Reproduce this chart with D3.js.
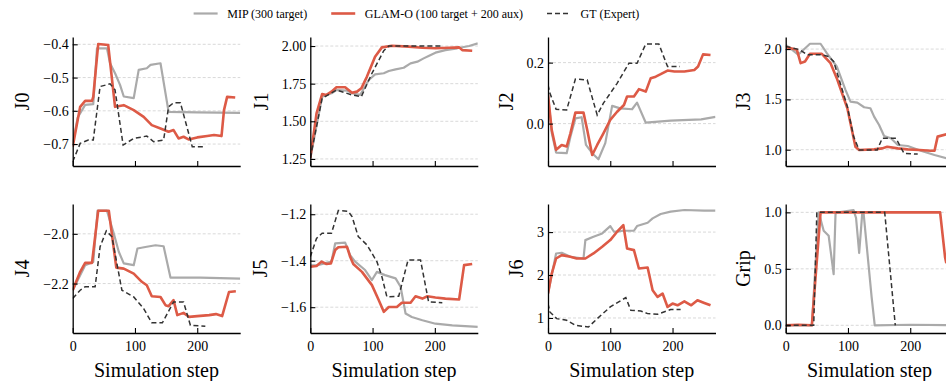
<!DOCTYPE html>
<html lang="en">
<head>
<meta charset="utf-8">
<title>Joint trajectories</title>
<script src="https://cdn.jsdelivr.net/npm/d3@7"></script>
</head>
<body style="margin:0; background:#fff;">
<script>

// ---- data: [step, value] pairs ----
var J0_mip = [[0,-0.70],[8,-0.62],[20,-0.582],[33,-0.58],[39,-0.412],[55,-0.412],[60,-0.457],[68,-0.487],[76,-0.522],[82,-0.557],[98,-0.562],[106,-0.477],[119,-0.472],[125,-0.462],[141,-0.457],[154,-0.603],[200,-0.605],[269,-0.606]];
var J0_glam = [[0,-0.708],[12,-0.588],[20,-0.57],[31,-0.57],[33,-0.558],[41,-0.399],[57,-0.402],[68,-0.588],[82,-0.583],[98,-0.598],[114,-0.618],[127,-0.643],[141,-0.653],[154,-0.663],[162,-0.658],[170,-0.683],[178,-0.678],[186,-0.686],[200,-0.68],[216,-0.676],[227,-0.673],[239,-0.676],[243,-0.598],[248,-0.558],[261,-0.56]];
var J0_gt = [[0,-0.753],[12,-0.698],[25,-0.688],[33,-0.688],[44,-0.527],[60,-0.519],[68,-0.537],[81,-0.703],[98,-0.683],[119,-0.676],[130,-0.693],[146,-0.688],[154,-0.588],[162,-0.576],[173,-0.576],[192,-0.708],[213,-0.708]];

var J1_mip = [[0,1.255],[19,1.664],[34,1.686],[42,1.708],[59,1.704],[67,1.686],[80,1.675],[94,1.774],[104,1.812],[118,1.819],[126,1.834],[137,1.845],[150,1.856],[161,1.885],[172,1.896],[182,1.918],[190,1.934],[201,1.956],[217,1.973],[236,1.985],[255,2.0],[269,2.018]];
var J1_glam = [[0,1.255],[10,1.553],[19,1.681],[26,1.675],[34,1.697],[42,1.726],[56,1.726],[67,1.69],[75,1.697],[82,1.719],[91,1.797],[104,1.929],[115,1.991],[131,2.002],[158,1.996],[180,1.989],[201,1.985],[223,1.989],[239,1.991],[244,1.973],[260,1.969]];
var J1_gt = [[0,1.255],[19,1.653],[42,1.708],[67,1.675],[82,1.664],[99,1.819],[118,1.969],[126,2.0],[163,2.0],[212,2.0]];

var J2_mip = [[0,0.094],[6,-0.03],[13,-0.095],[30,-0.097],[36,-0.043],[44,0.017],[54,0.021],[61,-0.07],[71,-0.097],[81,-0.117],[92,-0.064],[103,0.058],[116,0.05],[135,0.047],[143,0.069],[157,0.003],[197,0.01],[246,0.014],[269,0.022]];
var J2_glam = [[0,0.094],[6,-0.021],[13,-0.086],[22,-0.07],[30,-0.075],[36,-0.032],[44,0.036],[57,0.036],[63,-0.021],[71,-0.103],[79,-0.07],[89,-0.032],[100,0.012],[111,0.039],[122,0.061],[127,0.089],[138,0.089],[146,0.113],[157,0.105],[165,0.149],[173,0.154],[181,0.162],[192,0.174],[203,0.171],[219,0.171],[235,0.176],[241,0.187],[249,0.227],[261,0.225]];
var J2_gt = [[0,0.127],[3,0.1],[13,0.047],[30,0.045],[44,0.146],[63,0.143],[79,0.028],[89,0.067],[111,0.132],[130,0.198],[143,0.198],[157,0.261],[178,0.261],[192,0.187],[212,0.187]];

var J3_mip = [[0,2.043],[20,1.944],[39,2.053],[56,2.053],[66,1.96],[82,1.827],[96,1.595],[104,1.478],[115,1.468],[126,1.422],[136,1.412],[142,1.329],[150,1.246],[158,1.136],[169,1.113],[180,1.047],[196,1.037],[217,0.99],[239,0.947],[259,0.914],[269,0.91]];
var J3_glam = [[0,2.02],[18,1.993],[24,1.86],[31,1.877],[39,1.953],[58,1.953],[72,1.86],[82,1.711],[99,1.412],[112,1.03],[118,0.997],[142,1.003],[155,1.013],[163,1.03],[180,1.013],[196,1.003],[215,0.997],[233,0.99],[239,0.99],[244,1.13],[260,1.156]];
var J3_gt = [[0,2.027],[23,1.993],[34,1.944],[56,1.944],[69,1.927],[77,1.877],[99,1.429],[109,1.13],[118,0.997],[147,0.997],[155,1.113],[177,1.113],[190,0.964],[206,0.957],[212,0.957]];

var J4_mip = [[0,-2.227],[20,-2.126],[33,-2.113],[40,-1.907],[55,-1.907],[66,-1.999],[74,-2.072],[82,-2.119],[98,-2.126],[104,-2.059],[119,-2.052],[133,-2.046],[146,-2.05],[157,-2.176],[205,-2.176],[269,-2.18]];
var J4_glam = [[0,-2.227],[12,-2.153],[20,-2.117],[31,-2.117],[41,-1.907],[58,-1.907],[70,-2.136],[82,-2.14],[98,-2.16],[111,-2.193],[119,-2.207],[127,-2.251],[141,-2.254],[149,-2.287],[154,-2.291],[162,-2.267],[168,-2.327],[178,-2.318],[187,-2.334],[200,-2.331],[219,-2.327],[230,-2.323],[240,-2.331],[251,-2.234],[262,-2.231]];
var J4_gt = [[0,-2.26],[12,-2.227],[20,-2.213],[36,-2.213],[44,-2.052],[54,-1.988],[63,-2.012],[79,-2.227],[98,-2.254],[114,-2.301],[127,-2.358],[144,-2.358],[162,-2.274],[178,-2.274],[189,-2.368],[213,-2.372]];

var J5_mip = [[0,-1.42],[10,-1.42],[34,-1.404],[40,-1.325],[56,-1.322],[64,-1.376],[72,-1.404],[88,-1.44],[99,-1.483],[107,-1.448],[120,-1.462],[137,-1.476],[145,-1.512],[153,-1.627],[163,-1.642],[180,-1.656],[201,-1.671],[228,-1.678],[269,-1.685]];
var J5_glam = [[0,-1.426],[10,-1.423],[18,-1.404],[26,-1.414],[33,-1.412],[40,-1.354],[45,-1.342],[59,-1.34],[64,-1.383],[69,-1.414],[83,-1.448],[99,-1.505],[110,-1.57],[118,-1.62],[126,-1.599],[139,-1.599],[147,-1.581],[161,-1.581],[169,-1.553],[180,-1.563],[188,-1.553],[201,-1.558],[217,-1.563],[239,-1.567],[247,-1.419],[260,-1.414]];
var J5_gt = [[0,-1.383],[10,-1.304],[19,-1.282],[34,-1.282],[45,-1.184],[61,-1.188],[67,-1.21],[77,-1.296],[91,-1.332],[107,-1.404],[115,-1.469],[123,-1.555],[142,-1.553],[157,-1.397],[177,-1.397],[190,-1.577],[212,-1.581]];

var J6_mip = [[0,1.568],[13,2.502],[22,2.518],[36,2.424],[57,2.385],[60,2.813],[73,2.891],[87,2.969],[100,3.14],[106,3.008],[122,3.031],[138,3.031],[143,3.14],[160,3.218],[168,3.319],[181,3.42],[197,3.475],[219,3.514],[251,3.498],[269,3.498]];
var J6_glam = [[0,1.568],[6,2.035],[13,2.385],[22,2.463],[36,2.424],[46,2.385],[60,2.385],[73,2.502],[87,2.658],[100,2.813],[111,3.008],[121,3.163],[127,2.619],[138,2.58],[146,2.152],[160,2.175],[168,1.646],[176,1.49],[184,1.568],[192,1.257],[200,1.335],[208,1.296],[219,1.389],[230,1.296],[240,1.412],[251,1.35],[261,1.296]];
var J6_gt = [[0,1.335],[3,1.14],[14,0.984],[30,0.946],[44,0.829],[65,0.79],[79,0.984],[100,1.257],[125,1.475],[133,1.179],[149,1.163],[160,1.101],[176,1.086],[197,1.195],[213,1.195]];

var Grip_mip = [[0,0],[42,0],[53,1.0],[61,0.837],[69,0.793],[77,0.453],[80,0.985],[82,0.997],[109,1.02],[113,0.95],[118,0.64],[123,0.997],[125,0.997],[138,0.25],[143,0],[200,0.005],[269,0]];
var Grip_glam = [[0,0],[20,0.005],[42,0],[56,1.0],[120,1.0],[180,1.0],[248,1.0],[256,0.6],[258,0.55]];
var Grip_gt = [[0,0],[45,0],[50,1.0],[159,1.0],[176,0]];

var panelNames = ["J0", "J1", "J2", "J3", "J4", "J5", "J6", "Grip"];
var mipSeries = [J0_mip, J1_mip, J2_mip, J3_mip, J4_mip, J5_mip, J6_mip, Grip_mip];
var glamSeries = [J0_glam, J1_glam, J2_glam, J3_glam, J4_glam, J5_glam, J6_glam, Grip_glam];
var gtSeries = [J0_gt, J1_gt, J2_gt, J3_gt, J4_gt, J5_gt, J6_gt, Grip_gt];

// axis limits and ticks
var yLimits = [[-0.766, -0.378], [1.203, 2.06], [-0.139, 0.284], [0.838, 2.12],
               [-2.399, -1.880], [-1.711, -1.156], [0.65, 3.654], [-0.068, 1.074]];
var yTicks = [[-0.7, -0.6, -0.5, -0.4], [1.25, 1.5, 1.75, 2.0], [0.0, 0.2], [1.0, 1.5, 2.0],
              [-2.2, -2.0], [-1.6, -1.4, -1.2], [1, 2, 3], [0.0, 0.5, 1.0]];
var yFormats = [".1f", ".2f", ".1f", ".1f", ".1f", ".1f", "d", ".1f"];
var xTicks = [0, 100, 200];
var xLimit = [0, 269];

var legendLabels = ["MIP (300 target)", "GLAM-O (100 target + 200 aux)", "GT (Expert)"];

// ---- layout ----
var W = 946, H = 381;
var colLeft = [72.7, 310.3, 548, 785.7];
var rowTop = [37, 204];
var pw = 167.5, ph = 129;
var FONT = "Liberation Serif";

var colMip = "#aaaaaa", colGlam = "#dd5a46", colGt = "#333333";

var svg = d3.select("body").append("svg")
	.attr("width", W)
	.attr("height", H)
	.style("font-family", FONT);

var x = d3.scaleLinear().domain(xLimit).range([0, pw]);

panelNames.forEach(function(name, i){
	var row = Math.floor(i / 4), col = i % 4;
	var g = svg.append("g")
		.attr("transform", "translate(" + colLeft[col] + "," + rowTop[row] + ")");

	var y = d3.scaleLinear().domain(yLimits[i]).range([ph, 0]);

	// grid
	g.selectAll("line.grid")
		.data(yTicks[i])
		.enter()
		.append("line")
		.attr("class", "grid")
		.attr("x1", 0)
		.attr("x2", pw)
		.attr("y1", function(d){ return y(d); })
		.attr("y2", function(d){ return y(d); })
		.style("stroke", "#cfcfcf")
		.style("stroke-width", 0.8)
		.style("stroke-dasharray", "3,2");

	var clip = "clip" + i;
	g.append("clipPath").attr("id", clip)
		.append("rect").attr("x", 0).attr("y", -2).attr("width", pw).attr("height", ph + 4);

	var line = d3.line()
		.x(function(d){ return x(d[0]); })
		.y(function(d){ return y(d[1]); });

	var lines = g.append("g").attr("clip-path", "url(#" + clip + ")");

	lines.append("path")
		.attr("d", line(mipSeries[i]))
		.style("fill", "none")
		.style("stroke", colMip)
		.style("stroke-width", 2.2)
		.style("stroke-linejoin", "round");

	lines.append("path")
		.attr("d", line(glamSeries[i]))
		.style("fill", "none")
		.style("stroke", colGlam)
		.style("stroke-width", 2.6)
		.style("stroke-linejoin", "round");

	lines.append("path")
		.attr("d", line(gtSeries[i]))
		.style("fill", "none")
		.style("stroke", colGt)
		.style("stroke-width", 1.5)
		.style("stroke-dasharray", "5,3");

	// axes
	var yAxis = d3.axisLeft(y)
		.tickValues(yTicks[i])
		.tickFormat(d3.format(yFormats[i]))
		.tickSizeInner(-5)
		.tickSizeOuter(0)
		.tickPadding(4);

	var xAxis = d3.axisBottom(x)
		.tickValues(xTicks)
		.tickSizeInner(-5)
		.tickSizeOuter(0)
		.tickPadding(8);
	if(row === 0){
		xAxis.tickFormat("");
	}

	var ya = g.append("g").call(yAxis).attr("font-family", FONT).attr("font-size", 14);
	var xa = g.append("g").attr("transform", "translate(0," + ph + ")").call(xAxis)
		.attr("font-family", FONT).attr("font-size", 14);

	[ya, xa].forEach(function(a){
		a.selectAll("path.domain").style("stroke", "#000").style("stroke-width", 1.3);
		a.selectAll(".tick line").style("stroke", "#000").style("stroke-width", 1.1);
		a.selectAll("text")
			.style("font-family", FONT)
			.style("font-size", "14px")
			.style("fill", "#000");
	});

	// y label, placed left of the widest tick label
	var minX = 0;
	ya.selectAll("text").each(function(){
		minX = Math.min(minX, this.getBBox().x - 4);
	});
	g.append("text")
		.attr("transform", "translate(" + (minX - 10) + "," + (ph / 2) + ") rotate(-90)")
		.attr("text-anchor", "middle")
		.style("font-family", FONT)
		.style("font-size", "20px")
		.text(name);

	if(row === 1){
		g.append("text")
			.attr("x", pw / 2)
			.attr("y", ph + 44)
			.attr("text-anchor", "middle")
			.style("font-family", FONT)
			.style("font-size", "20px")
			.text("Simulation step");
	}
});

// legend, laid out like a 3-column matplotlib legend
var legFont = 12;
var handleLen = 2 * legFont, handlePad = 0.8 * legFont, colGap = 2 * legFont;
var legendStroke = [colMip, colGlam, colGt];
var legendWidth = [2.2, 2.6, 1.5];
var legendDash = [null, null, "5,3"];

var leg = svg.append("g");
var cursor = 0;
legendLabels.forEach(function(label, i){
	leg.append("line")
		.attr("x1", cursor)
		.attr("x2", cursor + handleLen)
		.attr("y1", 13.5)
		.attr("y2", 13.5)
		.style("stroke", legendStroke[i])
		.style("stroke-width", legendWidth[i])
		.style("stroke-dasharray", legendDash[i]);
	var t = leg.append("text")
		.attr("x", cursor + handleLen + handlePad)
		.attr("y", 17.5)
		.style("font-family", FONT)
		.style("font-size", legFont + "px")
		.text(label);
	cursor += handleLen + handlePad + t.node().getComputedTextLength() + colGap;
});
var legWidth = cursor - colGap;
leg.attr("transform", "translate(" + (416.5 - legWidth / 2) + ",0)");

</script>
</body>
</html>
